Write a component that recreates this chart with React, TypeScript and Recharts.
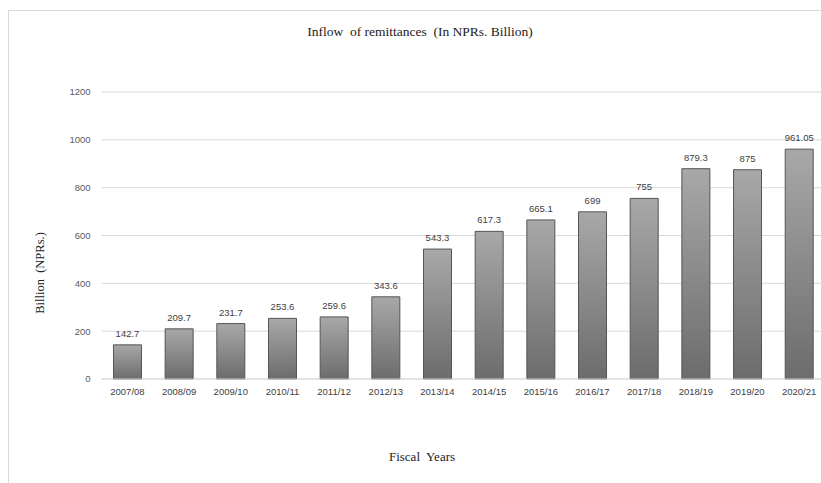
import React from "react";
import {
  BarChart,
  Bar,
  XAxis,
  YAxis,
  CartesianGrid,
  LabelList,
} from "recharts";

const years = [
  "2007/08", "2008/09", "2009/10", "2010/11", "2011/12", "2012/13", "2013/14",
  "2014/15", "2015/16", "2016/17", "2017/18", "2018/19", "2019/20", "2020/21",
];
const remittances = [
  142.7, 209.7, 231.7, 253.6, 259.6, 343.6, 543.3,
  617.3, 665.1, 699, 755, 879.3, 875, 961.05,
];
const yTicks = [0, 200, 400, 600, 800, 1000, 1200];

const data = years.map((year, i) => ({ year, value: remittances[i] }));

const serif = "'Liberation Serif', 'DejaVu Serif', serif";
const sans = "'Liberation Sans', Arial, sans-serif";

const App = () => {
  return (
    <div
      style={{
        position: "fixed",
        top: 10,
        left: 8,
        right: 0,
        height: 473,
        overflow: "hidden",
        borderTop: "1px solid #d9d9d9",
        borderLeft: "1px solid #d9d9d9",
        boxSizing: "border-box",
        background: "#fff",
      }}
    >
      <div
        style={{
          position: "absolute",
          top: 13,
          left: 411,
          transform: "translateX(-50%)",
          fontFamily: serif,
          fontSize: 13.5,
          color: "#222",
          whiteSpace: "pre",
        }}
      >
        {"Inflow  of remittances  (In NPRs. Billion)"}
      </div>
      <div
        style={{
          position: "absolute",
          top: 262,
          left: 31,
          transform: "translate(-50%, -50%) rotate(-90deg)",
          fontFamily: serif,
          fontSize: 12.5,
          color: "#222",
          whiteSpace: "pre",
        }}
      >
        {"Billion  (NPRs.)"}
      </div>
      <div
        style={{
          position: "absolute",
          top: 446,
          left: 413,
          transform: "translate(-50%, -50%)",
          fontFamily: serif,
          fontSize: 13,
          color: "#222",
          whiteSpace: "pre",
        }}
      >
        {"Fiscal  Years"}
      </div>
      <BarChart
        width={840}
        height={450}
        data={data}
        margin={{ top: 81, right: 24, bottom: 52, left: 0 }}
        barCategoryGap="23%"
      >
        <defs>
          <linearGradient id="barFill" x1="0" y1="0" x2="0" y2="1">
            <stop offset="0%" stopColor="#a8a8a8" />
            <stop offset="100%" stopColor="#6c6c6c" />
          </linearGradient>
        </defs>
        <CartesianGrid vertical={false} stroke="#d9d9d9" />
        <XAxis
          dataKey="year"
          interval={0}
          axisLine={{ stroke: "#d9d9d9" }}
          tickLine={false}
          tickSize={0}
          tickMargin={9}
          height={30}
          tick={{ fontSize: 9.5, fill: "#404040", fontFamily: sans }}
        />
        <YAxis
          domain={[0, 1200]}
          ticks={yTicks}
          width={92.6}
          axisLine={false}
          tickLine={false}
          tickSize={0}
          tickMargin={11}
          tick={{ fontSize: 9.5, fill: "#595959", fontFamily: sans }}
        />
        <Bar
          dataKey="value"
          fill="url(#barFill)"
          stroke="#555555"
          strokeWidth={1}
          isAnimationActive={false}
        >
          <LabelList
            dataKey="value"
            position="top"
            offset={8}
            style={{ fontSize: 9.5, fill: "#404040", fontFamily: sans }}
          />
        </Bar>
      </BarChart>
    </div>
  );
};

export default App;
